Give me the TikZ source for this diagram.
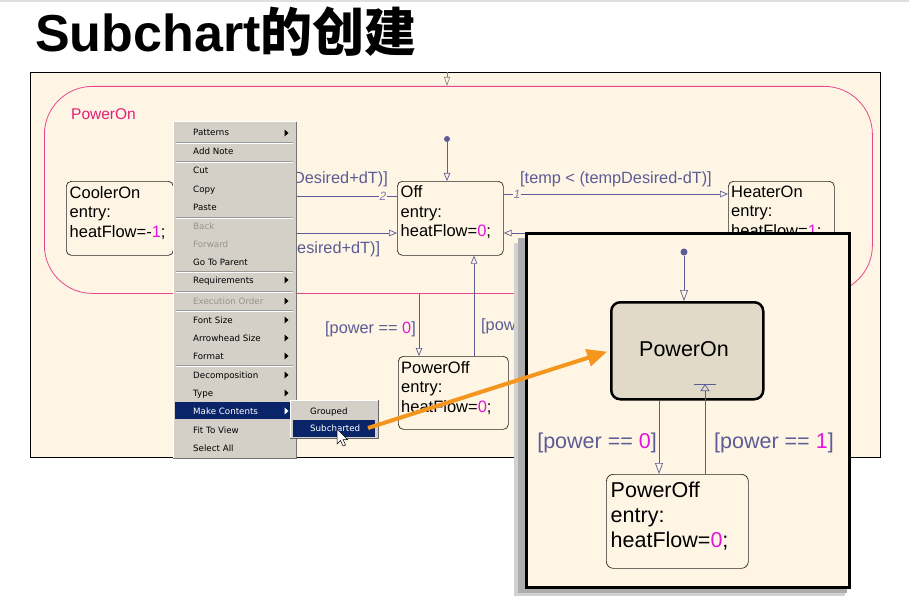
\documentclass[tikz,border=0pt]{standalone}
\usepackage{fontspec}
\setmainfont{Liberation Sans}
\newfontfamily\cjkfont{Noto Sans CJK SC}
\newfontfamily\menufont{DejaVu Sans}
\usetikzlibrary{arrows.meta}
\definecolor{cream}{RGB}{254,245,228}
\definecolor{pinkc}{RGB}{230,70,140}
\definecolor{pinkt}{RGB}{228,30,120}
\definecolor{tcol}{RGB}{92,92,150}
\definecolor{mag}{RGB}{228,20,220}
\definecolor{menubg}{RGB}{212,208,200}
\definecolor{menuhl}{RGB}{10,36,106}
\definecolor{menudis}{RGB}{150,148,140}
\definecolor{orangec}{RGB}{244,150,30}
\definecolor{tanc}{RGB}{226,218,200}
\tikzset{
  sfstate/.style={draw=black!85, line width=0.7pt, rounded corners=5pt, fill=cream, inner sep=0pt, anchor=north west},
  stxt/.style={font=\fontsize{16.5}{19.6}\selectfont, align=left, inner sep=0pt, anchor=north west, text=black},
  itxt/.style={font=\fontsize{21.5}{25}\selectfont, align=left, inner sep=0pt, anchor=north west, text=black},
  tlbl/.style={font=\fontsize{16.3}{20}\selectfont, text=tcol, inner sep=0pt},
  ilbl/.style={font=\fontsize{21.5}{25}\selectfont, text=tcol, inner sep=0pt},
  prio/.style={font=\fontsize{12}{12}\selectfont\itshape, text=tcol!80, fill=cream, inner sep=1pt},
  tline/.style={draw=tcol, line width=0.7pt},
  sfarrow/.style={-{Triangle[open, length=8pt, width=6.5pt, fill=cream]}},
  bigarrow/.style={-{Triangle[open, length=11pt, width=8pt, fill=cream]}},
  mitem/.style={font={\menufont\fontsize{8.7}{10}\selectfont}, inner sep=0pt, anchor=base west, text=black},
  mdis/.style={mitem, text=menudis},
  mhl/.style={mitem, text=white},
  panel/.style={inner sep=0pt, anchor=north west},
}
\begin{document}
\begin{tikzpicture}[x=1pt,y=-1pt]
\useasboundingbox (0,0) rectangle (909,596);
\fill[white] (0,0) rectangle (909,596);
\fill[black!12] (0,0) rectangle (909,2.5);

% title
\node[anchor=base west, inner sep=0pt, font=\fontsize{52}{52}\selectfont\bfseries] (title) at (35,52) {Subchart{\cjkfont 的创建}};

% chart frame
\node[panel, draw=black, line width=0.8pt, fill=cream, minimum width=850pt, minimum height=385pt] (frame) at (30,72) {};

% PowerOn superstate
\node[panel, draw=pinkc, line width=0.8pt, rounded corners=48pt, minimum width=828pt, minimum height=207pt] (pon) at (44,86) {};
\node[font=\fontsize{15.5}{18}\selectfont, text=pinkt, anchor=base west, inner sep=0pt] (ponlbl) at (71,120) {PowerOn};
\coordinate (topin) at (447,72);
\draw[draw=gray, line width=0.6pt, -{Triangle[open,length=9pt,width=6pt,fill=cream]}] (topin) -- (topin |- pon.north);

% states
\node[sfstate, minimum width=107pt, minimum height=74pt] (cooler) at (66,181) {};
\node[stxt] (coolert) at (69.5,186) {CoolerOn\\entry:\\heatFlow=-\textcolor{mag}{1};};
\node[sfstate, minimum width=106pt, minimum height=74pt] (off) at (397,181) {};
\node[stxt] (offt) at (400.5,185.5) {Off\\entry:\\heatFlow=\textcolor{mag}{0};};
\node[sfstate, minimum width=106pt, minimum height=74pt] (heater) at (728,181) {};
\node[stxt] (heatert) at (731,185.5) {HeaterOn\\entry:\\heatFlow=\textcolor{mag}{1};};
\node[sfstate, minimum width=110pt, minimum height=73pt] (poff) at (398,356) {};
\node[stxt] (pofft) at (401,361) {PowerOff\\entry:\\heatFlow=\textcolor{mag}{0};};

% default transition into Off
\node[circle, fill=tcol, inner sep=0pt, minimum size=6pt] (offdot) at (447,139) {};
\draw[tline, sfarrow] (offdot) -- (offdot |- off.north);

% transitions
\coordinate (yA) at (0,196);
\coordinate (yB) at (0,233);
\coordinate (yC) at (0,194);
\draw[tline, sfarrow] (off.west |- yA) -- (cooler.east |- yA);
\node[prio] (p2) at (383,196.5) {2};
\draw[tline, sfarrow] (cooler.east |- yB) -- (off.west |- yB);
\draw[tline, sfarrow] (off.east |- yC) -- (heater.west |- yC);
\node[prio] (p1) at (517,194.5) {1};
\draw[tline, sfarrow] (heater.west |- yB) -- (off.east |- yB);
\node[tlbl, anchor=base east] (lblA) at (388,183) {Desired+dT)]};
\node[tlbl, anchor=base west] (lblB) at (297,253) {esired+dT)]};
\node[tlbl, anchor=base west] (lblC) at (520,183) {[temp < (tempDesired-dT)]};

\coordinate (x419) at (419,0);
\coordinate (x474) at (474,0);
\draw[tline, sfarrow] (x419 |- pon.south) -- (x419 |- poff.north);
\node[tlbl, anchor=base east] (lblD) at (416,333) {[power == \textcolor{mag}{0}]};
\draw[tline, sfarrow] (x474 |- poff.north) -- (x474 |- off.south);
\node[tlbl, anchor=base west] (lblE) at (481,330) {[power == \textcolor{mag}{1}]};

% context menu
\node[panel, fill=menubg, minimum width=123pt, minimum height=336pt] (menu) at (173,122) {};
\draw[white, line width=1pt] (menu.south west) -- (menu.north west) -- (menu.north east);
\draw[black!55, line width=1pt] (menu.north east) -- (menu.south east) -- (menu.south west);
\foreach \y in {142,161,217,271,291,310,365} {
  \draw[black!40, line width=0.8pt] (176,\y) -- (293,\y);
  \draw[white, line width=0.8pt] (176,\y+1) -- (293,\y+1);
}
\node[panel, fill=menuhl, minimum width=115pt, minimum height=17pt] (mchl) at (175,402) {};
\node[mitem] (m1) at (193,136) {Patterns};
\node[mitem] (m2) at (193,154) {Add Note};
\node[mitem] (m3) at (193,174) {Cut};
\node[mitem] (m4) at (193,192) {Copy};
\node[mitem] (m5) at (193,210) {Paste};
\node[mdis] (m6) at (193,229) {Back};
\node[mdis] (m7) at (193,247) {Forward};
\node[mitem] (m8) at (193,265) {Go To Parent};
\node[mitem] (m9) at (193,283) {Requirements};
\node[mdis] (m10) at (193,304) {Execution Order};
\node[mitem] (m11) at (193,323) {Font Size};
\node[mitem] (m12) at (193,341) {Arrowhead Size};
\node[mitem] (m13) at (193,359) {Format};
\node[mitem] (m14) at (193,378) {Decomposition};
\node[mitem] (m15) at (193,396) {Type};
\node[mhl] (m16) at (193,414) {Make Contents};
\node[mitem] (m17) at (193,433) {Fit To View};
\node[mitem] (m18) at (193,451) {Select All};
\foreach \y in {133,280,301,320,338,356,375,393} {
  \fill (284.5,\y-3.5) -- (288.5,\y) -- (284.5,\y+3.5) -- cycle;
}
\fill[white] (284.5,407.5) -- (288.5,411) -- (284.5,414.5) -- cycle;

% submenu
\node[panel, fill=menubg, minimum width=88pt, minimum height=38pt] (sub) at (290,400) {};
\draw[white, line width=1pt] (sub.south west) -- (sub.north west) -- (sub.north east);
\draw[black!60, line width=1pt] (sub.north east) -- (sub.south east) -- (sub.south west);
\node[panel, fill=menuhl, minimum width=82pt, minimum height=17pt] (subhl) at (293,420) {};
\node[mitem] (mgrp) at (310,414) {Grouped};
\node[mhl] (msub) at (310,431.5) {Subcharted};

% mouse cursor
\draw[black, fill=white, line width=0.5pt, shift={(337,429)}] (0,0) -- (0,15) -- (3.5,11.5) -- (6,17) -- (8.5,16) -- (6,10.5) -- (10.5,10.5) -- cycle;

% inset with shadow
\fill[black!18] (514,243) rectangle (845,596);
\fill[black!32] (518,238) rectangle (847,593);
\node[panel, draw=black, line width=3pt, fill=cream, minimum width=323pt, minimum height=354pt] (inset) at (525,232) {};

\node[circle, fill=tcol, inner sep=0pt, minimum size=7pt] (idot) at (684,252) {};
\node[panel, draw=black, line width=2.5pt, rounded corners=9pt, fill=tanc, minimum width=152pt, minimum height=97pt] (ipon) at (610,301) {};
\node[font=\fontsize{21.5}{25}\selectfont, inner sep=0pt] (ipont) at (684,349) {PowerOn};
\draw[tline, bigarrow] (idot) -- (idot |- ipon.north);
\node[panel, draw=black!85, line width=0.7pt, rounded corners=7pt, fill=cream, minimum width=142pt, minimum height=94pt] (ipoff) at (606,474) {};
\node[itxt] (iofft) at (610.5,481.5) {PowerOff\\entry:\\heatFlow=\textcolor{mag}{0};};
\coordinate (x659) at (659,0);
\coordinate (x705) at (705,0);
\coordinate (ybar) at (0,384);
\draw[tline, bigarrow] (x659 |- ipon.south) -- (x659 |- ipoff.north);
\draw[tline, -{Triangle[open,length=7pt,width=9pt,fill=tanc]}] (x705 |- ipoff.north) -- (x705 |- ybar);
\draw[tline] (694,384) -- (716,384);
\node[ilbl, anchor=base east] (il0) at (657,448) {[power == \textcolor{mag}{0}]};
\node[ilbl, anchor=base west] (il1) at (714,448) {[power == \textcolor{mag}{1}]};

% orange pointer
\coordinate (ostart) at (368,428);
\draw[orangec, line width=4pt, shorten >=3pt, -{Triangle[length=20pt, width=17pt]}] (ostart) -- (ipon.west);
\end{tikzpicture}
\end{document}
